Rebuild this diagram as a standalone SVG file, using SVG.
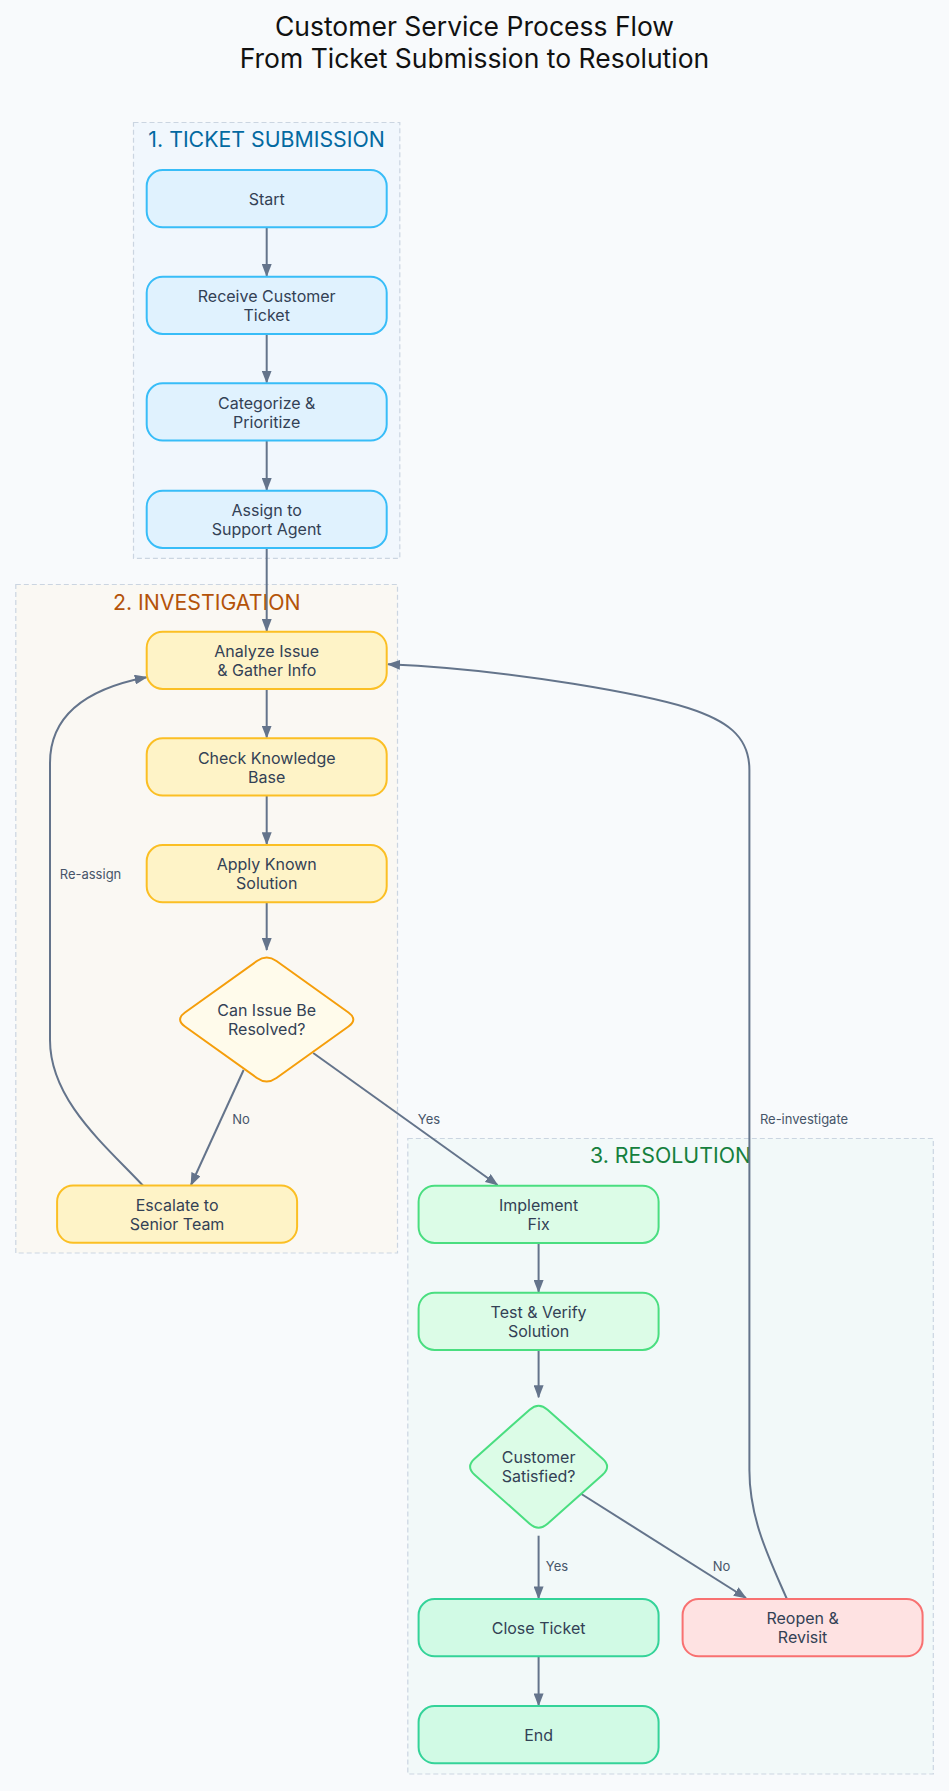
<svg xmlns="http://www.w3.org/2000/svg" width="949" height="1791" viewBox="0 0 949 1791">
<defs>
<style>
text{font-family:Inter,"Noto Sans","Liberation Sans",sans-serif;}
.title{font-size:26.5px;fill:#111111;text-anchor:middle;}
.ct{font-size:21.3px;text-anchor:middle;}
.nt{font-size:16px;fill:#334155;text-anchor:middle;}
.el{font-size:13px;fill:#475569;text-anchor:middle;}
.cl{stroke:#cbd5e1;stroke-width:1.2;stroke-dasharray:5 3;}
.blue{fill:#e0f2fe;stroke:#38bdf8;stroke-width:2;}
.yel{fill:#fef3c7;stroke:#fbbf24;stroke-width:2;}
.yd{fill:#fffbeb;stroke:#f59e0b;stroke-width:2;}
.grn{fill:#dcfce7;stroke:#4ade80;stroke-width:2;}
.emr{fill:#d1fae5;stroke:#34d399;stroke-width:2;}
.red{fill:#fee2e2;stroke:#f87171;stroke-width:2;}
.e{fill:none;stroke:#64748b;stroke-width:2;marker-end:url(#arr);}
</style>
<marker id="arr" viewBox="0 0 13 10" refX="12" refY="5" markerWidth="13" markerHeight="10" markerUnits="userSpaceOnUse" orient="auto">
<path d="M0,0 L13,5 L0,10 z" fill="#64748b"/>
</marker>
</defs>
<rect x="0" y="0" width="949" height="1791" fill="#f8fafc"/>
<text class="title" x="474.5" y="36">Customer Service Process Flow</text>
<text class="title" x="474.5" y="68.3">From Ticket Submission to Resolution</text>

<g id="cluster-submission">
<rect class="cl" x="133.5" y="122.5" width="266.3" height="435.8" fill="#f1f7fd"/>
<text class="ct" x="266.6" y="147.3" fill="#0369a1">1. TICKET SUBMISSION</text>
</g>
<g id="cluster-investigation">
<rect class="cl" x="15.8" y="584.5" width="381.7" height="668.5" fill="#faf8f3"/>
<text class="ct" x="206.7" y="610" fill="#b45309">2. INVESTIGATION</text>
</g>
<g id="cluster-resolution">
<rect class="cl" x="407.8" y="1138.5" width="525.5" height="635.5" fill="#f2f9f9"/>
<text class="ct" x="670.5" y="1163.2" fill="#15803d">3. RESOLUTION</text>
</g>

<g id="connectors">
<path class="e" d="M266.7,227.3 L266.7,276"/>
<path class="e" d="M266.7,334 L266.7,382.6"/>
<path class="e" d="M266.7,440.6 L266.7,490"/>
<path class="e" d="M266.7,548 L266.7,631"/>
<path class="e" d="M266.7,689 L266.7,737.6"/>
<path class="e" d="M266.7,795.6 L266.7,844.3"/>
<path class="e" d="M266.7,902.3 L266.7,950"/>
<path class="e" d="M243.6,1070 L191,1185"/>
<text class="el" x="241" y="1124">No</text>
<path class="e" d="M313.2,1053 L497.5,1185"/>
<text class="el" x="429" y="1124">Yes</text>
<path class="e" d="M142.9,1185.5 C105,1145 50,1100 50,1040 L50,763 C50,720 80,690 146.7,677.3"/>
<text class="el" x="90.5" y="879">Re-assign</text>
<path class="e" d="M538.6,1243 L538.6,1292"/>
<path class="e" d="M538.6,1350 L538.6,1397.3"/>
<path class="e" d="M538.6,1535.7 L538.6,1598.4"/>
<text class="el" x="557" y="1570.7">Yes</text>
<path class="e" d="M581.4,1494 L746,1598"/>
<text class="el" x="721.5" y="1570.7">No</text>
<path class="e" d="M538.6,1656.3 L538.6,1705.4"/>
<path class="e" d="M786.9,1599 C770,1560 749.4,1520 749.4,1470 L749.4,770 C749.4,735 725,720 688,708 C650,696 520,670 388,664.3"/>
<text class="el" x="804" y="1124">Re-investigate</text>
</g>

<g id="node-start">
<rect class="blue" x="146.7" y="170" width="240" height="57.3" rx="16"/>
<text class="nt" x="266.7" y="204.6">Start</text>
</g>
<g id="node-receive">
<rect class="blue" x="146.7" y="276.7" width="240" height="57.3" rx="16"/>
<text class="nt" x="266.7" y="302">Receive Customer</text>
<text class="nt" x="266.7" y="321">Ticket</text>
</g>
<g id="node-categorize">
<rect class="blue" x="146.7" y="383.3" width="240" height="57.3" rx="16"/>
<text class="nt" x="266.7" y="408.6">Categorize &amp;</text>
<text class="nt" x="266.7" y="427.6">Prioritize</text>
</g>
<g id="node-assign">
<rect class="blue" x="146.7" y="490.7" width="240" height="57.3" rx="16"/>
<text class="nt" x="266.7" y="516">Assign to</text>
<text class="nt" x="266.7" y="535">Support Agent</text>
</g>
<g id="node-analyze">
<rect class="yel" x="146.7" y="631.7" width="240" height="57.3" rx="16"/>
<text class="nt" x="266.7" y="657">Analyze Issue</text>
<text class="nt" x="266.7" y="676">&amp; Gather Info</text>
</g>
<g id="node-check">
<rect class="yel" x="146.7" y="738.3" width="240" height="57.3" rx="16"/>
<text class="nt" x="266.7" y="763.6">Check Knowledge</text>
<text class="nt" x="266.7" y="782.6">Base</text>
</g>
<g id="node-apply">
<rect class="yel" x="146.7" y="845" width="240" height="57.3" rx="16"/>
<text class="nt" x="266.7" y="870.3">Apply Known</text>
<text class="nt" x="266.7" y="889.3">Solution</text>
</g>
<g id="node-canresolve">
<path class="yd" d="M276.46,960.99 L348.44,1012.51 Q358.2,1019.5 348.44,1026.49 L276.46,1078.01 Q266.7,1085 256.94,1078.01 L184.96,1026.49 Q175.2,1019.5 184.96,1012.51 L256.94,960.99 Q266.7,954 276.46,960.99 Z"/>
<text class="nt" x="266.7" y="1016">Can Issue Be</text>
<text class="nt" x="266.7" y="1035">Resolved?</text>
</g>
<g id="node-escalate">
<rect class="yel" x="57.1" y="1185.5" width="240" height="57.3" rx="16"/>
<text class="nt" x="177.1" y="1210.8">Escalate to</text>
<text class="nt" x="177.1" y="1229.8">Senior Team</text>
</g>
<g id="node-implement">
<rect class="grn" x="418.6" y="1185.7" width="240" height="57.3" rx="16"/>
<text class="nt" x="538.6" y="1211">Implement</text>
<text class="nt" x="538.6" y="1230">Fix</text>
</g>
<g id="node-test">
<rect class="grn" x="418.6" y="1292.7" width="240" height="57.3" rx="16"/>
<text class="nt" x="538.6" y="1318">Test &amp; Verify</text>
<text class="nt" x="538.6" y="1337">Solution</text>
</g>
<g id="node-satisfied">
<path class="grn" d="M547.57,1409.68 L602.63,1458.72 Q611.6,1466.7 602.63,1474.68 L547.57,1523.72 Q538.6,1531.7 529.63,1523.72 L474.57,1474.68 Q465.6,1466.7 474.57,1458.72 L529.63,1409.68 Q538.6,1401.7 547.57,1409.68 Z"/>
<text class="nt" x="538.6" y="1463.3">Customer</text>
<text class="nt" x="538.6" y="1482.3">Satisfied?</text>
</g>
<g id="node-close">
<rect class="emr" x="418.6" y="1599" width="240" height="57.3" rx="16"/>
<text class="nt" x="538.6" y="1633.6">Close Ticket</text>
</g>
<g id="node-reopen">
<rect class="red" x="682.6" y="1599" width="240" height="57.3" rx="16"/>
<text class="nt" x="802.6" y="1624.3">Reopen &amp;</text>
<text class="nt" x="802.6" y="1643.3">Revisit</text>
</g>
<g id="node-end">
<rect class="emr" x="418.6" y="1706" width="240" height="57.3" rx="16"/>
<text class="nt" x="538.6" y="1740.6">End</text>
</g>
</svg>
